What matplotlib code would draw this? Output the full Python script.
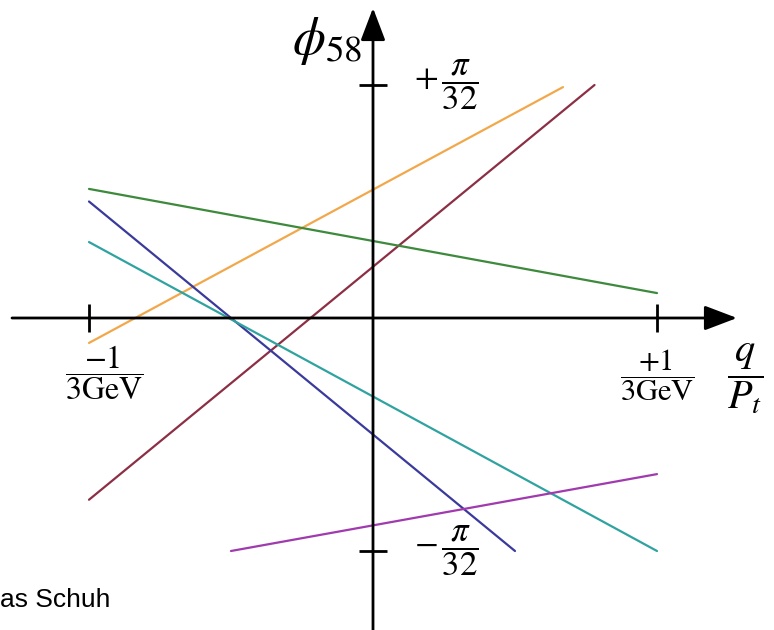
import matplotlib.pyplot as plt

plt.rcParams['mathtext.fontset'] = 'stix'
plt.rcParams['font.family'] = ['Liberation Serif', 'DejaVu Serif']

# track parameters, x in units of 1/(3 GeV), y in units of pi/32
names = ['orange', 'brown', 'green', 'blue', 'teal', 'purple']
x0 = [-1.0, -1.0, -1.0, -1.0, -1.0, -0.50]
y0 = [-0.107, -0.78, 0.554, 0.50, 0.326, -1.0]
x1 = [0.669, 0.78, 1.0, 0.50, 1.0, 1.0]
y1 = [0.991, 1.0, 0.107, -1.0, -1.0, -0.67]
colors = ['#f2a84a', '#8c2f45', '#3d8a3d', '#3a3a9c', '#2fa3a0', '#a03aae']

xtick_pos = [-1, 1]
ytick_pos = [-1, 1]
xtick_labels = [r'$\dfrac{-1}{3\mathrm{GeV}}$', r'$\dfrac{+1}{3\mathrm{GeV}}$']
ytick_labels = [r'$-\,\dfrac{\pi}{32}$', r'$+\,\dfrac{\pi}{32}$']

fig = plt.figure(figsize=(7.74, 6.3), dpi=100)
ax = fig.add_axes([0, 0, 1, 1])
ax.set_xlim(-373 / 284, 401 / 284)
ax.set_ylim(-312 / 233, 318 / 233)
ax.axis('off')

for i in range(len(names)):
    ax.plot([x0[i], x1[i]], [y0[i], y1[i]], color=colors[i], lw=1.6,
            solid_capstyle='round')

# axes with arrow heads
arrow = dict(arrowstyle='-|>,head_length=1.0,head_width=0.38',
             mutation_scale=20, lw=2, color='black', shrinkA=0, shrinkB=0)
ax.annotate('', xy=(364 / 284, 0), xytext=(-361 / 284, 0), arrowprops=arrow)
ax.annotate('', xy=(0, 310 / 233), xytext=(0, -320 / 233), arrowprops=arrow)

ax.plot(xtick_pos, [0, 0], ls='none', marker='|', markersize=20, mew=2, color='black')
ax.plot([0, 0], ytick_pos, ls='none', marker='_', markersize=20, mew=2, color='black')

ax.text(-0.947, -0.232, xtick_labels[0], fontsize=23, ha='center', va='center')
ax.text(1.0, -0.245, xtick_labels[1], fontsize=22, ha='center', va='center')
for yp, lab in zip(ytick_pos, ytick_labels):
    ax.text(0.26, yp, lab, fontsize=25, ha='center', va='center')

ax.text(-0.162, 1.19, r'$\phi_{58}$', fontsize=38, ha='center', va='center')
ax.text(1.31, -0.258, r'$\dfrac{q}{P_t}$', fontsize=29, ha='center', va='center')

fig.text(0.0, 1 - 607 / 630, 'as Schuh', fontsize=19,
         family='Liberation Sans', ha='left', va='baseline')

fig.savefig('out.png', dpi=100)
